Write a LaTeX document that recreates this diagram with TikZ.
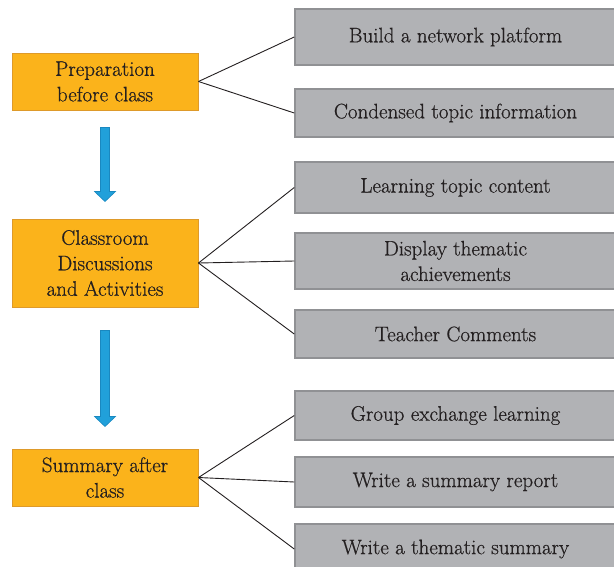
\documentclass[tikz,border=0pt]{standalone}
\usepackage{fontspec}
\setmainfont{Latin Modern Roman}[FakeBold=0.6]
\usetikzlibrary{calc}
\definecolor{orangefill}{HTML}{FBB31B}
\definecolor{orangeedge}{HTML}{DE9A2A}
\definecolor{grayfill}{HTML}{B1B2B5}
\definecolor{grayedge}{HTML}{909194}
\definecolor{bluefill}{HTML}{21A0DA}
\definecolor{blueedge}{HTML}{1A88C0}
\definecolor{textcol}{HTML}{231F20}
\begin{document}
\begin{tikzpicture}[x=1pt,y=-1pt,
  stagebox/.style={draw=orangeedge, line width=1pt, fill=orangefill, minimum width=186pt, inner sep=0pt, align=center, text=textcol, font=\rmfamily\fontsize{21}{25.5}\selectfont},
  itembox/.style={draw=grayedge, line width=1.5pt, fill=grayfill, minimum width=321pt, inner sep=0pt, align=center, text=textcol, font=\rmfamily\fontsize{21}{25.5}\selectfont},
  link/.style={draw=textcol, line width=0.9pt},
  fatarrow/.style={fill=bluefill, draw=blueedge, line width=0.6pt, line join=miter}]
\useasboundingbox (0,0) rectangle (614,566);
\clip (0,0) rectangle (614,566);

% stage boxes
\node[stagebox, minimum height=57pt] (p) at (105,81.5) {Preparation\\before class};
\node[stagebox, minimum height=88pt] (c) at (105,263) {Classroom\\Discussions\\and Activities};
\node[stagebox, minimum height=57pt] (s) at (105,477.5) {Summary after\\class};

% item boxes
\node[itembox, minimum height=56pt] (i1) at (455.5,37) {Build a network platform};
\node[itembox, minimum height=48pt] (i2) at (455.5,113) {Condensed topic information};
\node[itembox, minimum height=51pt] (i3) at (455.5,187.5) {Learning topic content};
\node[itembox, minimum height=56pt] (i4) at (455.5,261) {Display thematic\\achievements};
\node[itembox, minimum height=48pt] (i5) at (455.5,334) {Teacher Comments};
\node[itembox, minimum height=49pt] (i6) at (455.5,415.5) {Group exchange learning};
\node[itembox, minimum height=50pt] (i7) at (455.5,482) {Write a summary report};
\node[itembox, minimum height=50pt] (i8) at (455.5,549) {Write a thematic summary};

% connectors
\foreach \t in {i1,i2} \draw[link] (p.east) -- (\t.west);
\foreach \t in {i3,i4,i5} \draw[link] (c.east) -- (\t.west);
\foreach \t in {i6,i7,i8} \draw[link] (s.east) -- (\t.west);

% flow arrows
\coordinate (a1s) at ($(p.south)+(0,17)$);
\coordinate (a1t) at ($(c.north)+(0,-17)$);
\coordinate (a2s) at ($(c.south)+(0,23)$);
\coordinate (a2t) at ($(s.north)+(0,-22)$);
\foreach \s/\t in {a1s/a1t, a2s/a2t}
  \draw[fatarrow] ($(\s)+(-4.5,0)$) -- ($(\s)+(4.5,0)$) -- ($(\t)+(4.5,-10)$) -- ($(\t)+(10.5,-10)$) -- (\t) -- ($(\t)+(-10.5,-10)$) -- ($(\t)+(-4.5,-10)$) -- cycle;
\end{tikzpicture}
\end{document}
